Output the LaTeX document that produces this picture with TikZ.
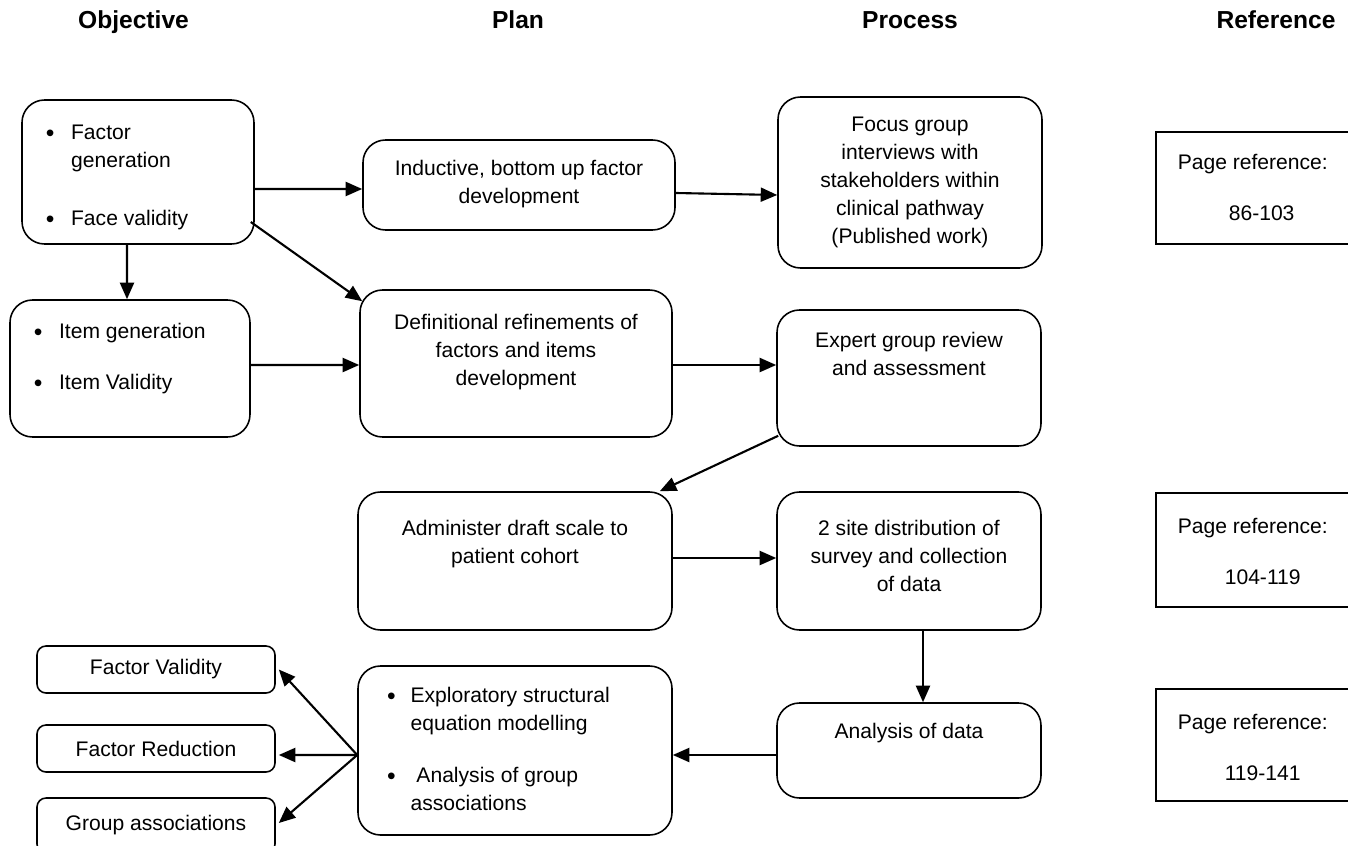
\documentclass[tikz,border=0pt]{standalone}
\usepackage{fontspec}
\setmainfont{Liberation Sans}
\usetikzlibrary{arrows.meta}
% fixed-size box body, text hung from the top
\newcommand{\boxbody}[4]{\parbox[c][#2][t]{#1}{\vspace*{#3}#4}}
\newcommand{\bul}{\raisebox{-1.2pt}{\fontsize{14}{16}\selectfont\textbullet}}

\tikzset{
  card/.style={draw, line width=0.9pt, rounded corners=0.45cm, inner sep=0pt},
  tag/.style={draw, line width=0.9pt, rounded corners=0.18cm, minimum width=4.76cm,
              minimum height=0.94cm, inner sep=0pt},
  refbox/.style={draw, line width=0.9pt, inner sep=0pt, anchor=north west},
  head/.style={font=\fontsize{14}{16}\selectfont\bfseries, anchor=base},
  arr/.style={-{Triangle[length=0.33cm,width=0.28cm]}, line width=1.2pt}
}

\begin{document}
\begin{tikzpicture}[font=\fontsize{12}{16}\selectfont]
\useasboundingbox (0,0) rectangle (26.96,-16.92);

% column heads
\node[head] (hobj) at (2.67,-0.58) {Objective};
\node[head] (hplan) at (10.36,-0.58) {Plan};
\node[head] (hproc) at (18.2,-0.58) {Process};
\node[head] (href) at (25.52,-0.58) {Reference};

% objective column
\node[card] (obj1) at (2.76,-3.44) {\boxbody{4.64cm}{2.88cm}{0.4cm}{%
  \hspace*{0.48cm}\begin{tabular}[t]{@{}l@{\hspace{0.33cm}}l@{}}
  \bul & Factor\\
       & generation\\[17pt]
  \bul & Face validity
  \end{tabular}}};
\node[card] (obj2) at (2.6,-7.37) {\boxbody{4.8cm}{2.74cm}{0.38cm}{%
  \hspace*{0.48cm}\begin{tabular}[t]{@{}l@{\hspace{0.33cm}}l@{}}
  \bul & Item generation\\[13pt]
  \bul & Item Validity
  \end{tabular}}};
\node[tag] (fval) at (3.12,-13.39) {Factor Validity};
\node[tag] (fred) at (3.12,-14.97) {Factor Reduction};
\node[tag, minimum height=1.1cm] (fgrp) at (3.12,-16.51) {\raisebox{0.08cm}{Group associations}};

% plan column
\node[card] (plan1) at (10.38,-3.7) {\boxbody{6.24cm}{1.8cm}{0.4cm}{\centering
  Inductive, bottom up factor\\ development}};
\node[card] (plan2) at (10.32,-7.27) {\boxbody{6.24cm}{2.94cm}{0.48cm}{\centering
  Definitional refinements of\\ factors and items\\ development}};
\node[card] (plan3) at (10.3,-11.22) {\boxbody{6.28cm}{2.76cm}{0.56cm}{\centering
  Administer draft scale to\\ patient cohort}};
\node[card] (plan4) at (10.3,-15.01) {\boxbody{6.28cm}{3.38cm}{0.33cm}{%
  \hspace*{0.58cm}\begin{tabular}[t]{@{}l@{\hspace{0.3cm}}l@{}}
  \bul & Exploratory structural\\
       & equation modelling\\[13.6pt]
  \bul & \ Analysis of group\\
       & associations
  \end{tabular}}};

% process column
\node[card] (proc1) at (18.2,-3.65) {\boxbody{5.28cm}{3.42cm}{0.4cm}{\centering
  Focus group\\ interviews with\\ stakeholders within\\ clinical pathway\\ (Published work)}};
\node[card] (proc2) at (18.18,-7.56) {\boxbody{5.28cm}{2.72cm}{0.44cm}{\centering
  Expert group review\\ and assessment}};
\node[card] (proc3) at (18.18,-11.22) {\boxbody{5.28cm}{2.76cm}{0.56cm}{\centering
  2 site distribution of\\ survey and collection\\ of data}};
\node[card] (proc4) at (18.18,-15.01) {\boxbody{5.28cm}{1.9cm}{0.4cm}{\centering
  Analysis of data}};

% reference column (runs off the page edge)
\node[refbox] (ref1) at (23.1,-2.62) {\boxbody{4.4cm}{2.24cm}{0.44cm}{%
  \hspace*{0.44cm}Page reference:\\[0.46cm]\hspace*{1.46cm}86-103}};
\node[refbox] (ref2) at (23.1,-9.84) {\boxbody{4.4cm}{2.28cm}{0.5cm}{%
  \hspace*{0.44cm}Page reference:\\[0.46cm]\hspace*{1.38cm}104-119}};
\node[refbox] (ref3) at (23.1,-13.76) {\boxbody{4.4cm}{2.24cm}{0.5cm}{%
  \hspace*{0.44cm}Page reference:\\[0.46cm]\hspace*{1.38cm}119-141}};

% connectors
\draw[arr] ([yshift=-0.34cm]obj1.east) -- ([yshift=-0.08cm]plan1.west);
\draw[arr] ([yshift=-0.16cm]plan1.east) -- ([yshift=-0.25cm]proc1.west);
\draw[arr] ([xshift=-0.22cm]obj1.south) -- ([xshift=-0.06cm]obj2.north);
\draw[arr] ([shift={(-0.08,-1.0)}]obj1.east) -- ([shift={(0.06,-0.24)}]plan2.north west);
\draw[arr] ([yshift=0.07cm]obj2.east) -- ([yshift=-0.03cm]plan2.west);
\draw[arr] ([yshift=-0.03cm]plan2.east) -- ([yshift=0.26cm]proc2.west);
\draw[arr] ([shift={(0.04,0.22)}]proc2.south west) -- ([xshift=-0.26cm]plan3.north east);
\draw[arr] ([yshift=0.06cm]plan3.east) -- ([yshift=0.06cm]proc3.west);
\draw[arr] ([xshift=0.28cm]proc3.south) -- ([xshift=0.28cm]proc4.north);
\draw[arr] ([yshift=-0.09cm]proc4.west) -- ([yshift=-0.09cm]plan4.east);
\coordinate (fan) at ([yshift=-0.09cm]plan4.west);
\draw[arr] (fan) -- ([xshift=0.06cm]fval.east);
\draw[arr] (fan) -- ([shift={(0.06,-0.13)}]fred.east);
\draw[arr] (fan) -- ([shift={(0.06,0.05)}]fgrp.east);
\end{tikzpicture}
\end{document}
